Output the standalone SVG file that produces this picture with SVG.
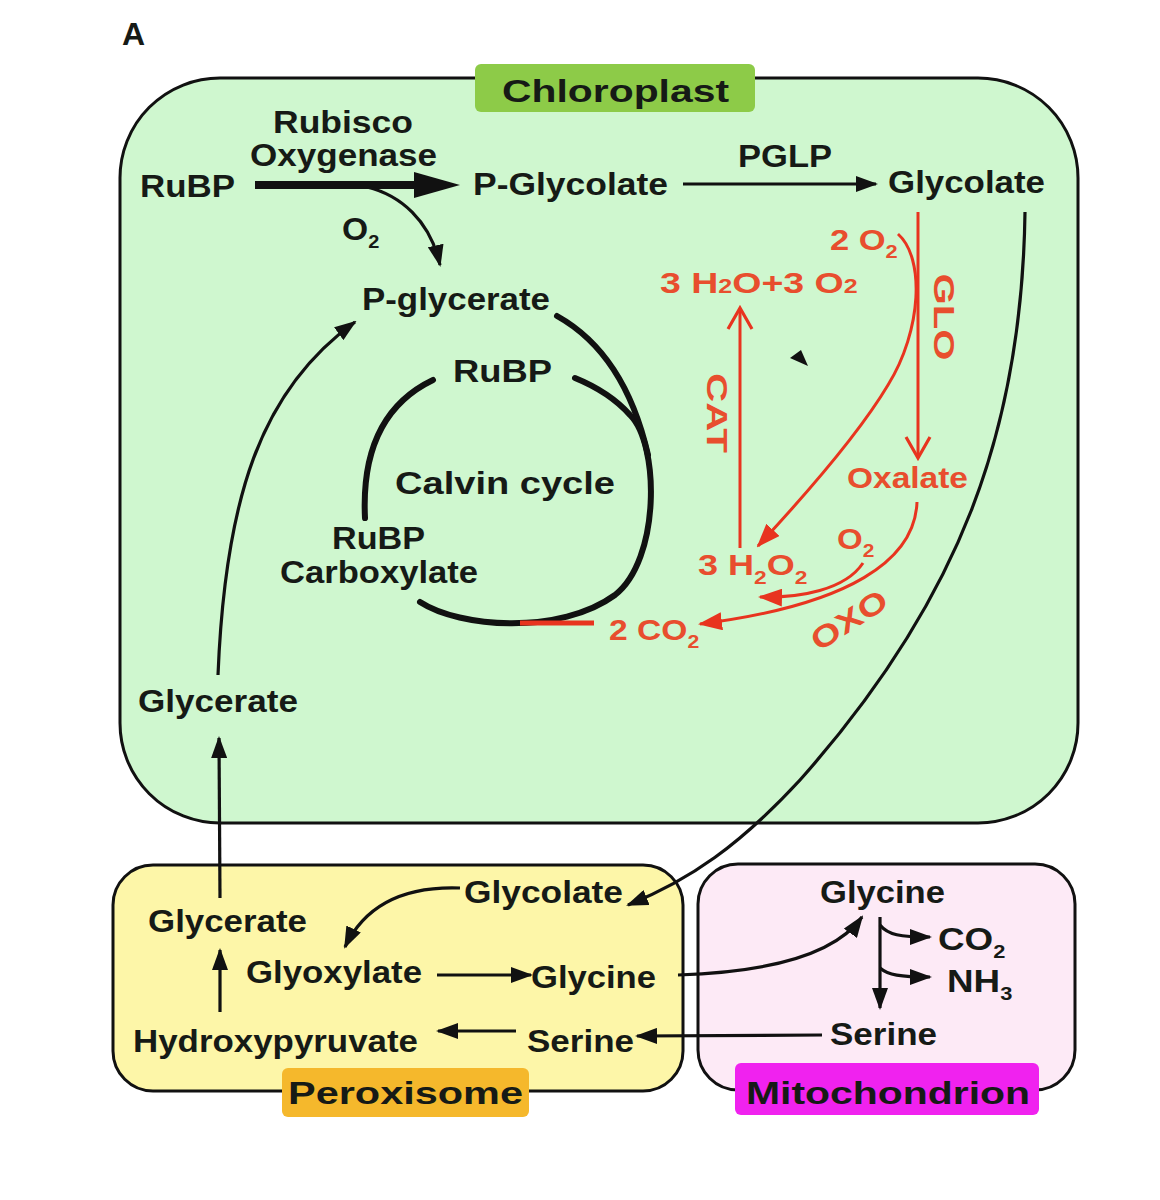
<svg xmlns="http://www.w3.org/2000/svg" width="1160" height="1200" viewBox="0 0 1160 1200">
<style>
.t{font-family:"Liberation Sans",Arial,sans-serif;font-weight:bold;font-size:32px;fill:#161a16}
.r{font-family:"Liberation Sans",Arial,sans-serif;font-weight:bold;font-size:30px;fill:#e84e2e}
.box{stroke:#111;stroke-width:3}
.bl{fill:none;stroke:#111;stroke-width:3.2}
.cyc{fill:none;stroke:#111;stroke-width:6;stroke-linecap:round}
.rl{fill:none;stroke:#e8341f;stroke-width:3}
</style>
<defs>
<marker id="ab" markerUnits="userSpaceOnUse" viewBox="0 0 22 16" markerWidth="22" markerHeight="16" refX="20" refY="8" orient="auto"><path d="M0,0 L22,8 L0,16 z" fill="#111"/></marker>
<marker id="ar" markerUnits="userSpaceOnUse" viewBox="0 0 24 18" markerWidth="24" markerHeight="18" refX="22" refY="9" orient="auto"><path d="M0,0 L24,9 L0,18 z" fill="#e8341f"/></marker>
<marker id="ac" markerUnits="userSpaceOnUse" viewBox="0 0 26 28" markerWidth="26" markerHeight="28" refX="23" refY="14" orient="auto"><path d="M2,2 L23,14 L2,26" fill="none" stroke="#e8341f" stroke-width="3.2"/></marker>
</defs>
<rect width="1160" height="1200" fill="#fff"/>
<text class="t" x="122" y="45" font-size="31">A</text>

<g id="chloroplast">
<rect class="box" x="120" y="78" width="958" height="745" rx="100" fill="#cff7cf"/>
<rect x="475" y="64" width="280" height="48" rx="6" fill="#8dcb48"/>
<text class="t" x="502" y="102" font-size="40" textLength="227" lengthAdjust="spacingAndGlyphs">Chloroplast</text>
</g>
<g id="peroxisome">
<rect class="box" x="113" y="865" width="570" height="226" rx="40" fill="#fdf6a8"/>
<rect x="282" y="1068" width="247" height="49" rx="6" fill="#f5b82c"/>
<text class="t" x="288" y="1104" font-size="38" textLength="235" lengthAdjust="spacingAndGlyphs">Peroxisome</text>
</g>
<g id="mitochondrion">
<rect class="box" x="698" y="864" width="377" height="226" rx="40" fill="#fdeaf6"/>
<rect x="735" y="1063" width="304" height="52" rx="6" fill="#f022ef"/>
<text class="t" x="746" y="1104" font-size="38" textLength="284" lengthAdjust="spacingAndGlyphs">Mitochondrion</text>
</g>

<g id="connectors">
<line x1="255" y1="185" x2="420" y2="185" stroke="#111" stroke-width="8"/>
<polygon points="414,172 460,185 414,198" fill="#111"/>
<path class="bl" d="M367,187 C400,195 430,220 440,265" marker-end="url(#ab)"/>
<path class="bl" d="M683,184 L876,184" marker-end="url(#ab)"/>
<path class="bl" d="M218,675 C225,500 260,390 355,322" marker-end="url(#ab)"/>
<path class="bl" d="M220,898 L219,738" marker-end="url(#ab)"/>
<path class="bl" d="M1025,212 C1022,430 960,600 800,780 C740,845 690,880 628,905" marker-end="url(#ab)"/>
<path class="cyc" d="M433,380 Q360,415 365,518"/>
<path class="cyc" d="M420,602 C460,628 560,635 615,595 C660,560 660,445 630,415 C615,398 597,387 575,378"/>
<path class="cyc" d="M557,316 C600,340 632,385 648,455"/>
<path class="bl" d="M460,888 C405,886 365,905 345,947" marker-end="url(#ab)"/>
<path class="bl" d="M220,1012 L220,950" marker-end="url(#ab)"/>
<path class="bl" d="M437,975 L531,975" marker-end="url(#ab)"/>
<path class="bl" d="M516,1031 L438,1031" marker-end="url(#ab)"/>
<path class="bl" d="M822,1035 L637,1036" marker-end="url(#ab)"/>
<path class="bl" d="M678,975 C770,972 835,955 862,917" marker-end="url(#ab)"/>
<path class="bl" d="M880,917 L880,1008" marker-end="url(#ab)"/>
<path class="bl" d="M880,925 C888,935 900,937 930,937" marker-end="url(#ab)"/>
<path class="bl" d="M880,968 C888,975 900,977 930,977" marker-end="url(#ab)"/>
<path class="rl" d="M918,212 L918,458" marker-end="url(#ac)"/>
<path class="rl" d="M898,234 C925,258 922,330 888,385 C860,432 810,490 758,546" marker-end="url(#ar)"/>
<path class="rl" d="M740,548 L740,308" marker-end="url(#ac)"/>
<path d="M520,623 L594,623" stroke="#e8341f" stroke-width="5"/>
<path class="rl" d="M917,502 C915,560 850,605 700,624" marker-end="url(#ar)"/>
<path class="rl" d="M863,563 C845,590 800,598 760,597" marker-end="url(#ar)"/>
<polygon points="790,358 801,350 808,366" fill="#111"/>
</g>

<g id="labels">
<text class="t" x="273" y="133" font-size="28" textLength="140" lengthAdjust="spacingAndGlyphs">Rubisco</text>
<text class="t" x="250" y="166" font-size="28" textLength="187" lengthAdjust="spacingAndGlyphs">Oxygenase</text>
<text class="t" x="140" y="197" textLength="95" lengthAdjust="spacingAndGlyphs">RuBP</text>
<text class="t" x="473" y="195" textLength="195" lengthAdjust="spacingAndGlyphs">P-Glycolate</text>
<text class="t" x="738" y="167" font-size="31" textLength="94" lengthAdjust="spacingAndGlyphs">PGLP</text>
<text class="t" x="888" y="193" textLength="157" lengthAdjust="spacingAndGlyphs">Glycolate</text>
<text class="t" transform="translate(342,240) scale(1.05,1)" font-size="31">O<tspan font-size="19" dy="8">2</tspan></text>
<text class="t" x="362" y="310" font-size="31" textLength="188" lengthAdjust="spacingAndGlyphs">P-glycerate</text>
<text class="t" x="453" y="382" textLength="99" lengthAdjust="spacingAndGlyphs">RuBP</text>
<text class="t" x="395" y="494" font-size="34" textLength="220" lengthAdjust="spacingAndGlyphs">Calvin cycle</text>
<text class="t" x="332" y="549" font-size="29" textLength="93" lengthAdjust="spacingAndGlyphs">RuBP</text>
<text class="t" x="280" y="583" font-size="29" textLength="198" lengthAdjust="spacingAndGlyphs">Carboxylate</text>
<text class="t" x="138" y="712" textLength="160" lengthAdjust="spacingAndGlyphs">Glycerate</text>

<text class="r" transform="translate(830,250) scale(1.15,1)">2 O<tspan font-size="19" dy="8">2</tspan></text>
<text class="r" transform="translate(660,293) scale(1.25,1)" font-size="27">3 H<tspan font-size="20">2</tspan>O+3 O<tspan font-size="20">2</tspan></text>
<text class="r" transform="translate(944,317) rotate(90)" text-anchor="middle" dominant-baseline="central" font-size="40" textLength="87" lengthAdjust="spacingAndGlyphs">GLO</text>
<text class="r" transform="translate(717,413) rotate(90)" text-anchor="middle" dominant-baseline="central" font-size="38" textLength="80" lengthAdjust="spacingAndGlyphs">CAT</text>
<text class="r" x="847" y="488" textLength="121" lengthAdjust="spacingAndGlyphs">Oxalate</text>
<text class="r" transform="translate(837,549) scale(1.1,1)">O<tspan font-size="19" dy="8">2</tspan></text>
<text class="r" transform="translate(698,575) scale(1.2,1)" font-size="29">3 H<tspan font-size="19" dy="9">2</tspan><tspan dy="-9">O</tspan><tspan font-size="19" dy="9">2</tspan></text>
<text class="r" transform="translate(609,640) scale(1.12,1)" font-size="31">2 CO<tspan font-size="19" dy="8">2</tspan></text>
<text class="r" transform="translate(849,620) rotate(-33)" text-anchor="middle" dominant-baseline="central" font-size="38" textLength="85" lengthAdjust="spacingAndGlyphs">OXO</text>

<text class="t" x="464" y="903" textLength="159" lengthAdjust="spacingAndGlyphs">Glycolate</text>
<text class="t" x="148" y="932" textLength="159" lengthAdjust="spacingAndGlyphs">Glycerate</text>
<text class="t" x="246" y="983" textLength="176" lengthAdjust="spacingAndGlyphs">Glyoxylate</text>
<text class="t" x="531" y="988" textLength="125" lengthAdjust="spacingAndGlyphs">Glycine</text>
<text class="t" x="133" y="1052" textLength="285" lengthAdjust="spacingAndGlyphs">Hydroxypyruvate</text>
<text class="t" x="527" y="1052" textLength="107" lengthAdjust="spacingAndGlyphs">Serine</text>

<text class="t" x="820" y="903" font-size="31" textLength="125" lengthAdjust="spacingAndGlyphs">Glycine</text>
<text class="t" transform="translate(938,950) scale(1.15,1)" font-size="30">CO<tspan font-size="19" dy="8">2</tspan></text>
<text class="t" transform="translate(947,992) scale(1.15,1)" font-size="30">NH<tspan font-size="19" dy="8">3</tspan></text>
<text class="t" x="830" y="1045" font-size="31" textLength="107" lengthAdjust="spacingAndGlyphs">Serine</text>
</g>
</svg>
